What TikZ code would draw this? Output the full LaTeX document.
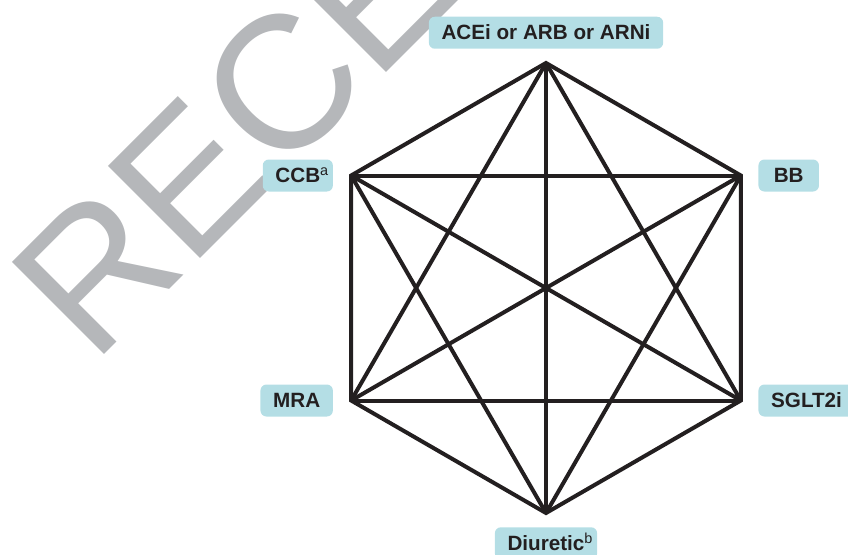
\documentclass[tikz,border=0pt]{standalone}
\usepackage{fontspec}
\setmainfont{Liberation Sans}
\usetikzlibrary{positioning}
\definecolor{ink}{HTML}{231F20}
\definecolor{drugblue}{HTML}{B4DEE5}
\definecolor{stampgrey}{HTML}{B5B7BA}

\begin{document}
\begin{tikzpicture}[
        x=0.75pt,y=-0.75pt,
        drug/.style={fill=drugblue,rounded corners=4.5pt,inner xsep=9.5pt,inner ysep=0pt,
          minimum height=24pt,text height=10.5pt,text depth=0pt,text=ink,
          font=\fontsize{15.5}{18}\selectfont\bfseries},
        link/.style={draw=ink,line width=3pt,line join=miter}
      ]
      \useasboundingbox (0,0) rectangle (848,554);
      \clip (0,0) rectangle (848,554);

      % stamp behind everything
      \node[stampgrey,anchor=base west,inner sep=0pt,rotate=45,
        font=\fontsize{142}{142}\selectfont] (stamp) at (93,366) {RECE};

      % corners of the hexagon
      \foreach \n/\a in {1/-90,2/-30,3/30,4/90,5/150,6/210}
        \coordinate (v\n) at ([shift={(546,288)}]\a:225);

      \draw[link] (v1) -- (v2) -- (v3) -- (v4) -- (v5) -- (v6) -- cycle;
      \foreach \p/\q in {v1/v3,v1/v4,v1/v5,v2/v4,v2/v5,v2/v6,v3/v5,v3/v6,v4/v6}
        \draw[link] (\p) -- (\q);

      \node[drug,above=10.5pt of v1] (acei) {ACEi or ARB or ARNi};
      \node[drug,right=13pt of v2,inner xsep=11.5pt] (bb) {BB};
      \node[drug,right=13pt of v3] (sglt) {SGLT2i};
      \node[drug,below=10.5pt of v4] (diur) {Diuretic\rlap{\textsuperscript{\mdseries b}}};
      \node[drug,left=13.5pt of v5] (mra) {MRA};
      \node[drug,left=13.5pt of v6] (ccb) {CCB\rlap{\textsuperscript{\mdseries a}}};
    \end{tikzpicture}
\end{document}
